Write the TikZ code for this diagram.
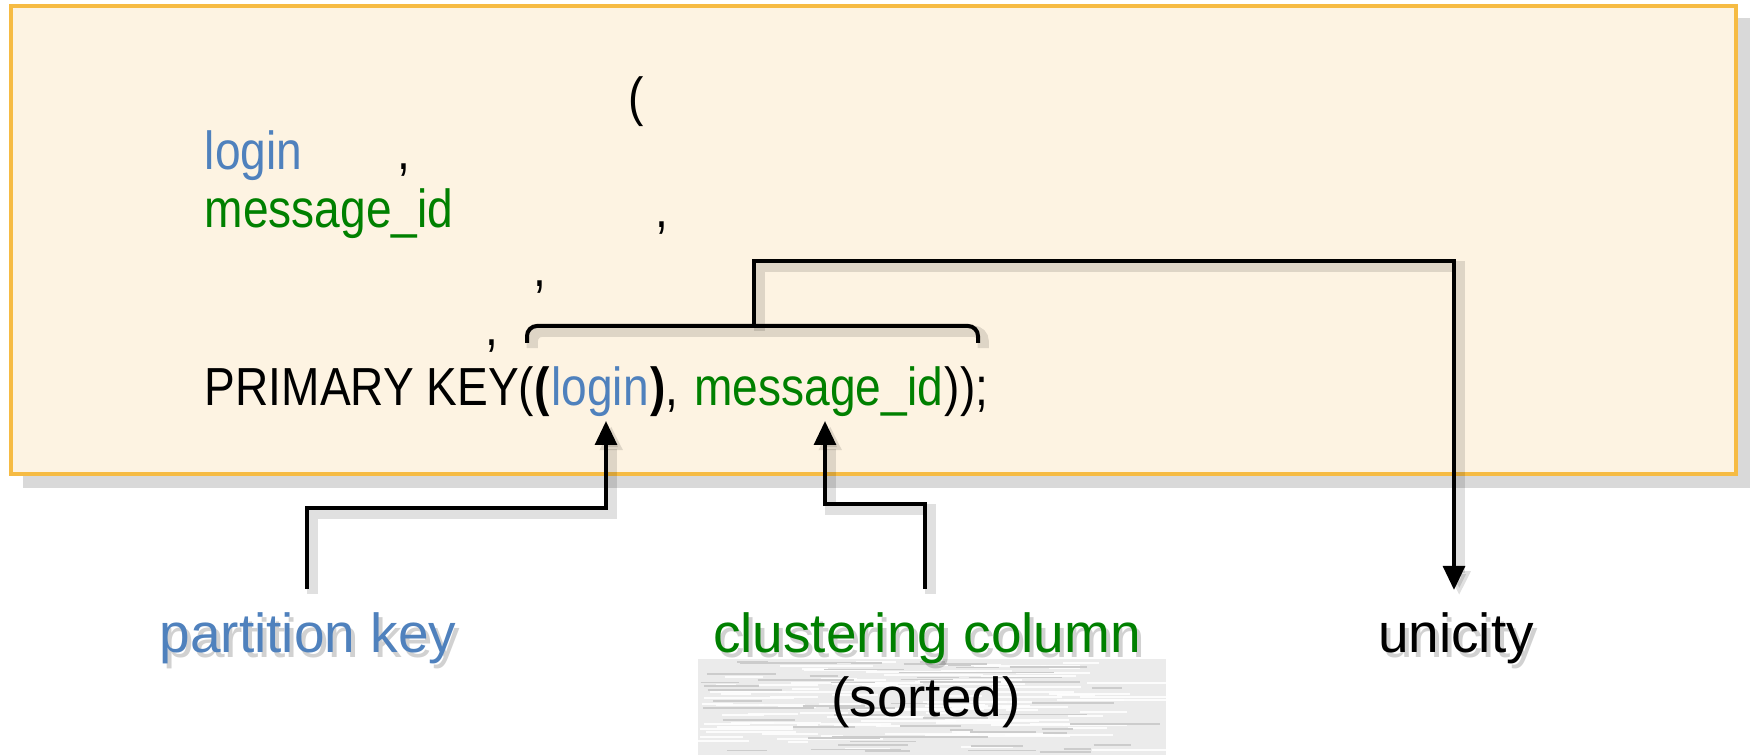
\documentclass[tikz,border=0pt]{standalone}
\usepackage{fontspec}
\setmainfont{Liberation Sans}
\newfontfamily\codefont[FakeStretch=0.86]{Liberation Sans}
\usetikzlibrary{arrows.meta}
\definecolor{boxfill}{HTML}{FDF3E2}
\definecolor{boxedge}{HTML}{F6BB43}
\definecolor{boxshade}{HTML}{D9D9D9}
\definecolor{keyblue}{HTML}{4F81BD}
\definecolor{colgreen}{HTML}{008000}
\tikzset{
  code/.style={font=\codefont\fontsize{13.4}{16}\selectfont, inner sep=0pt, anchor=base west},
  punct/.style={font=\codefont\fontsize{13.4}{16}\selectfont, inner sep=0pt, anchor=base},
  lbl/.style={font=\fontsize{13.75}{16}\selectfont, inner sep=0pt},
  lblshade/.style={lbl, text=black, opacity=0.18},
  conn/.style={line width=1pt, draw=black,
    preaction={draw=black, opacity=0.12, line width=2.8pt,
      transform canvas={shift={(1.3pt,-1.3pt)}}}},
  arr/.style={conn, -{Triangle[length=6pt,width=5.4pt]}},
}
\begin{document}
\begin{tikzpicture}[x=0.25pt,y=-0.25pt]
\useasboundingbox (0,0) rectangle (1750,755);

% table definition panel with its drop shadow
\fill[boxshade] (23,18) rectangle (1750,488);
\draw[boxedge, line width=1.1pt, fill=boxfill] (11,6) rectangle (1736,474);

% code lines
\node[punct] (paren) at (636,116) {(};
\node[code, text=keyblue] (login) at (204,170) {login};
\node[punct] (c1) at (404,170) {,};
\node[code, text=colgreen] (msgid) at (204,228) {message\_id};
\node[punct] (c2) at (662,228) {,};
\node[punct] (c3) at (540,287) {,};
\node[punct] (c4) at (492,346) {,};
\node[code] (pk1) at (204,406) {PRIMARY KEY(\textbf{(}};
\node[code, text=keyblue] (pkLogin) at (pk1.base east) {login};
\node[code] (pk3) at (pkLogin.base east) {\textbf{)},\kern0.27em};
\node[code, text=colgreen] (pkMsg) at (pk3.base east) {message\_id};
\node[code] (pk5) at (pkMsg.base east) {));};

% textured patch behind the second label
\fill[black!8] (698,659) rectangle (1166,755);
\pgfmathsetseed{11}
\foreach \i in {1,...,110}{
  \pgfmathsetmacro{\xa}{698+rnd*400}
  \pgfmathsetmacro{\ya}{662+rnd*90}
  \pgfmathsetmacro{\ln}{20+rnd*90}
  \pgfmathsetmacro{\xb}{min(\xa+\ln,1166)}
  \draw[white, line width=0.5pt, opacity=0.85] (\xa,\ya) -- (\xb,\ya);
}
\foreach \i in {1,...,60}{
  \pgfmathsetmacro{\xa}{698+rnd*400}
  \pgfmathsetmacro{\ya}{662+rnd*90}
  \pgfmathsetmacro{\ln}{20+rnd*80}
  \pgfmathsetmacro{\xb}{min(\xa+\ln,1166)}
  \draw[black!20, line width=0.4pt] (\xa,\ya) -- (\xb,\ya);
}

% connector end points and bends
\coordinate (bL) at (527,343);
\coordinate (bR) at (978,343);
\coordinate (bM) at (754,326);
\coordinate (uA) at (754,261);
\coordinate (uT) at (1454,590);
\coordinate (pS) at (307,589);
\coordinate (pB) at (606,508);
\coordinate (pT) at (606,421);
\coordinate (cS) at (925,589);
\coordinate (cB) at (825,504);
\coordinate (cT) at (825,421);

% brace over the key and the unicity connector
\draw[conn, rounded corners=2.5pt] (bL) |- (bM) -| (bR);
\draw[arr] (bM) -- (uA) -| (uT);

% partition key and clustering column connectors
\draw[arr] (pS) |- (pB) -- (pT);
\draw[arr] (cS) |- (cB) -- (cT);

% labels
\node[lblshade] at (312,643) {partition key};
\node[lbl, text=keyblue] (partkey) at (308,638) {partition key};
\node[lblshade] at (931,643) {clustering column};
\node[lbl, text=colgreen] (cluster) at (927,638) {clustering column};
\node[lbl] (sorted) at (926,702) {(sorted)};
\node[lblshade] at (1460,643) {unicity};
\node[lbl] (unicity) at (1456,638) {unicity};
\end{tikzpicture}
\end{document}
